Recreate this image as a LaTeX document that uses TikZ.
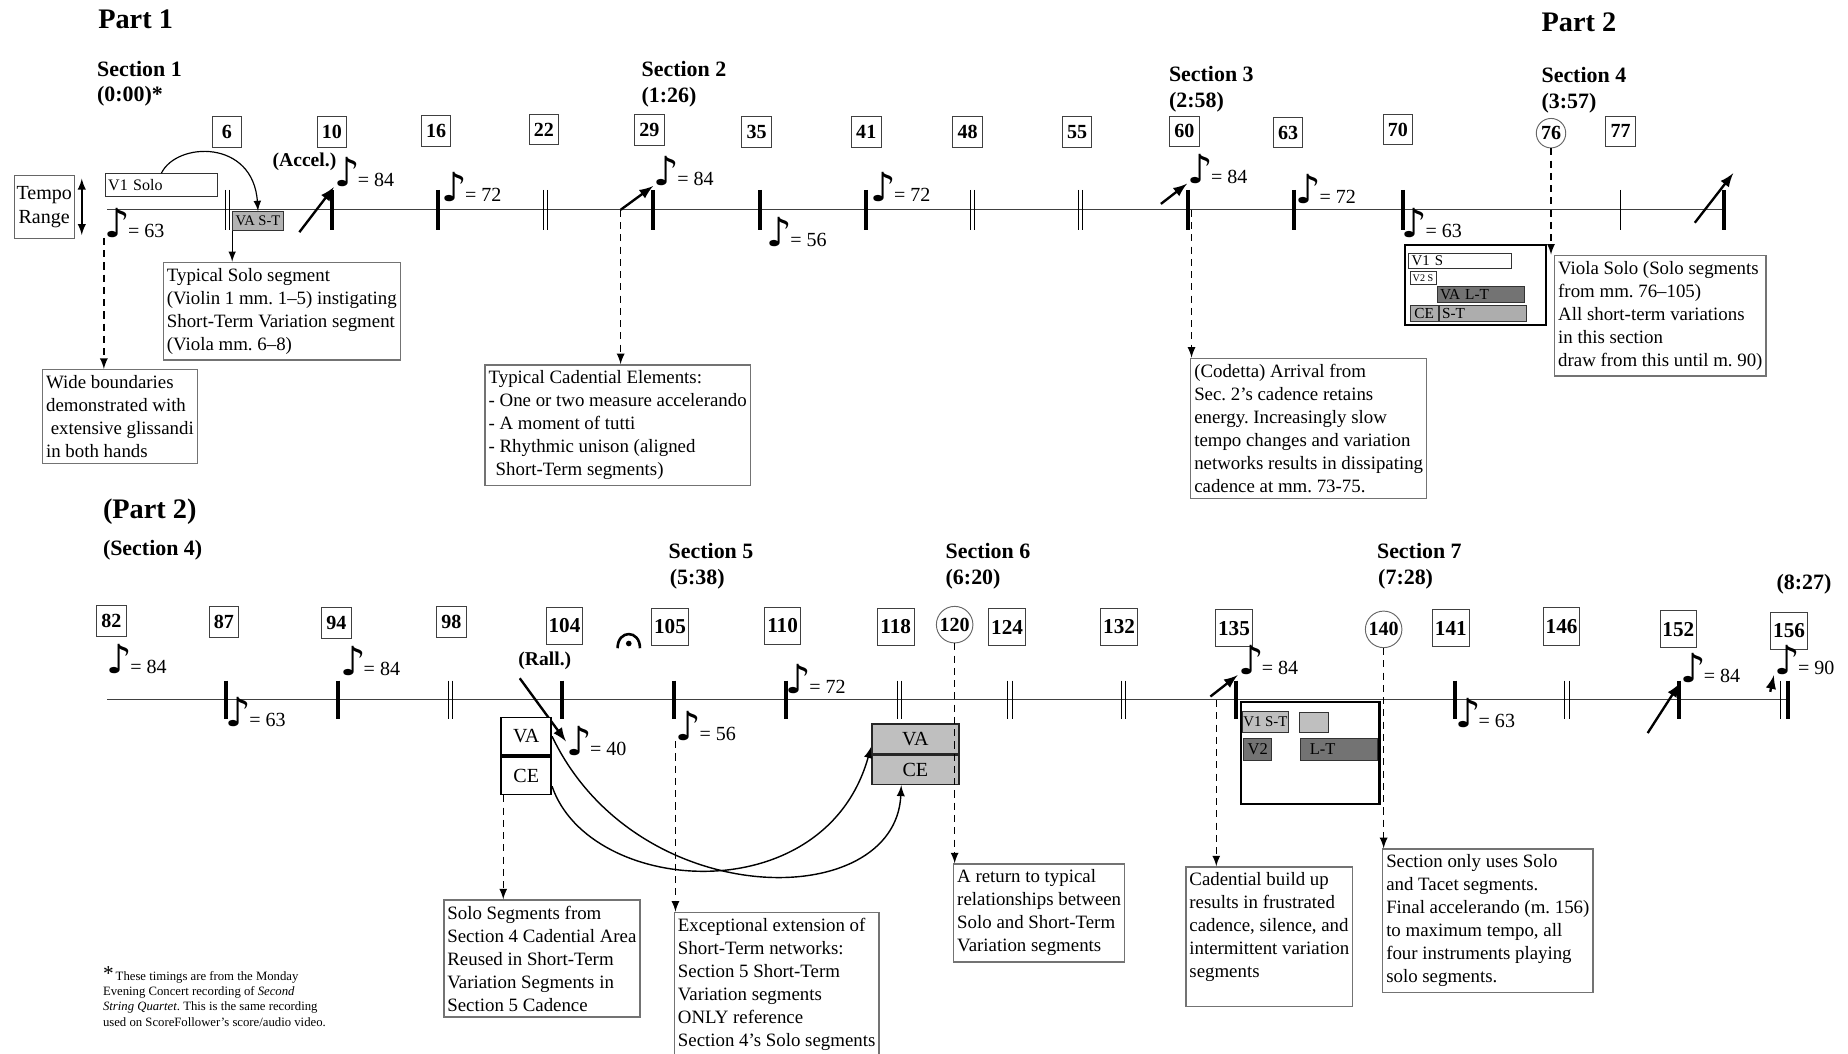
\documentclass[tikz,border=0pt]{standalone}
\usepackage{fontspec}
\setmainfont{Liberation Serif}
\newfontfamily\notefont{DejaVu Sans}
\newcommand{\tnote}[1]{{\notefont\fontsize{17}{17}\selectfont\char"266A}\kern-0.8pt=\ #1}
\frenchspacing

\begin{document}
\begin{tikzpicture}[x=0.5pt, y=-0.5pt,
    font=\fontsize{8}{9.75}\selectfont,
    tline/.style={line width=0.5pt, black!75},
    tbar/.style={line width=1.7pt},
    dbar/.style={line width=0.45pt},
    acc/.style={-latex, line width=1pt},
    dsh/.style={-latex, dashed, dash pattern=on 3pt off 2.2pt, line width=0.55pt},
    numbox/.style={draw=black!75, font=\bfseries\fontsize{8.5}{8.5}\selectfont, inner sep=0.5pt, minimum width=12.5pt, minimum height=13pt},
    numboxw/.style={numbox, font=\bfseries\fontsize{9}{9}\selectfont, minimum width=15.5pt, minimum height=15.75pt},
    numcirc/.style={circle, draw=black!60, font=\bfseries\fontsize{8.5}{8.5}\selectfont, inner sep=0.3pt, minimum size=12.5pt},
    part/.style={anchor=base west, inner sep=0, font=\bfseries\fontsize{12}{12}\selectfont},
    head/.style={anchor=base west, inner sep=0, font=\bfseries\fontsize{9.3}{9.3}\selectfont},
    tempo/.style={inner sep=0, font=\fontsize{8.5}{8.5}\selectfont},
    notebox/.style={draw=black!55, line width=0.6pt, anchor=north west, align=left, inner xsep=1.5pt, inner ysep=2.5pt},
    seg/.style={draw=black!80, anchor=north west, inner sep=0pt, font=\fontsize{6.5}{6.5}\selectfont},
    segl/.style={seg, align=left, inner xsep=1.2pt}
]
    \useasboundingbox (0,0) rectangle (1568,894);

    % Headings
    \node[part] (p1) at (83,24) {Part 1};
    \node[part] (p2) at (1307.6,27) {Part 2};
    \node[head] (s1) at (82,64.5) {Section 1};
    \node[head] (s1t) at (82,86.3) {(0:00)*};
    \node[head] (s2) at (544,65) {Section 2};
    \node[head] (s2t) at (544,87) {(1:26)};
    \node[head] (s3) at (991.5,69) {Section 3};
    \node[head] (s3t) at (991.5,91) {(2:58)};
    \node[head] (s4) at (1307.6,70) {Section 4};
    \node[head] (s4t) at (1307.6,92) {(3:57)};
    \node[part] (p2b) at (87,440) {(Part 2)};
    \node[head] (s4b) at (87,471) {(Section 4)};
    \node[head] (s5) at (567,474) {Section 5};
    \node[head] (s5t) at (568,496) {(5:38)};
    \node[head] (s6) at (802,474) {Section 6};
    \node[head] (s6t) at (802,496) {(6:20)};
    \node[head] (s7) at (1168,474) {Section 7};
    \node[head] (s7t) at (1169,496) {(7:28)};
    \node[head] (s8t) at (1507,500) {(8:27)};

    % Measure numbers
    \foreach \n/\x/\y in {6/192.5/112, 10/281.5/112, 16/370/111, 22/461.5/110, 29/551/110.5, 35/642/112, 41/735/112, 48/821/112, 55/914/112, 60/1005/111.5, 63/1093/112.5, 70/1186/110, 77/1375/111.5, 82/94.5/527, 87/190/527.5, 94/285.5/528.5, 98/383/527.5}
        \node[numbox] (m\n) at (\x,\y) {\n};
    \foreach \n/\x/\y in {104/479/531, 105/568.5/532, 110/664/531, 118/760/532, 124/854.5/532, 132/949.5/532, 135/1047/533, 141/1231/533, 146/1325/531.5, 152/1424/534, 156/1518/535}
        \node[numboxw] (m\n) at (\x,\y) {\n};
    \node[numcirc] (m76) at (1316,113) {76};
    \node[numcirc, minimum size=15.5pt] (m120) at (810,530) {120};
    \node[numcirc, minimum size=15.5pt] (m140) at (1174,534) {140};

    % Timelines
    \coordinate (tl1s) at (91,178);
    \coordinate (tl1e) at (1463,178);
    \coordinate (tl2s) at (91,593.5);
    \coordinate (tl2e) at (1517,593.5);
    \draw[tline] (tl1s) -- (tl1e);
    \draw[tline] (tl2s) -- (tl2e);

    % Bar lines
    \foreach \x in {282,372,554,645,735,1008,1098,1190,1463}
        \draw[tbar] (\x,161) -- (\x,195);
    \foreach \x in {193,463,825,917} {
        \draw[dbar] (\x-1.8,161) -- (\x-1.8,195);
        \draw[dbar] (\x+1.8,161) -- (\x+1.8,195);
    }
    \draw[dbar] (1375,161) -- (1375,195);
    \foreach \x in {192,287,477,572,667,1049,1234.5,1424.6,1517}
        \draw[tbar] (\x,577.5) -- (\x,610);
    \foreach \x in {382.5,763,857,953,1329.6} {
        \draw[dbar] (\x-1.8,577.5) -- (\x-1.8,610);
        \draw[dbar] (\x+1.8,577.5) -- (\x+1.8,610);
    }
    \draw[dbar] (1510.5,577.5) -- (1510.5,610);

    % Tempo marks
    \node[tempo] (t63a) at (114,189) {\tnote{63}};
    \node[tempo] (t84a) at (309,146) {\tnote{84}};
    \node[tempo] (t72a) at (400,159) {\tnote{72}};
    \node[tempo] (t84b) at (580,145) {\tnote{84}};
    \node[tempo] (t56a) at (676,197) {\tnote{56}};
    \node[tempo] (t72b) at (764,159) {\tnote{72}};
    \node[tempo] (t84c) at (1033,143) {\tnote{84}};
    \node[tempo] (t72c) at (1125,160) {\tnote{72}};
    \node[tempo] (t63b) at (1215,189) {\tnote{63}};
    \node[tempo] (t84d) at (116,559) {\tnote{84}};
    \node[tempo] (t63c) at (217,604) {\tnote{63}};
    \node[tempo] (t84e) at (314,561) {\tnote{84}};
    \node[tempo] (t40) at (506,629) {\tnote{40}};
    \node[tempo] (t56b) at (599,616) {\tnote{56}};
    \node[tempo] (t72d) at (692,576) {\tnote{72}};
    \node[tempo] (t84f) at (1076,560) {\tnote{84}};
    \node[tempo] (t63d) at (1260,605) {\tnote{63}};
    \node[tempo] (t84g) at (1451,567) {\tnote{84}};
    \node[tempo] (t90) at (1531,560) {\tnote{90}};

    % Accel. and Rall.
    \node[head, font=\bfseries\fontsize{8.3}{8.3}\selectfont] (accel) at (231,141) {(Accel.)};
    \node[head, font=\bfseries\fontsize{8.3}{8.3}\selectfont] (rall) at (439.5,565) {(Rall.)};
    \coordinate (a1) at (254,197);
    \coordinate (a2) at (526.6,178);
    \coordinate (a3) at (985,173);
    \coordinate (a4) at (1438,189);
    \coordinate (a4e) at (1470.6,147);
    \coordinate (a5) at (1027,591);
    \coordinate (a6) at (1398,622);
    \coordinate (a7) at (1502,587);
    \coordinate (r1) at (441,575.5);
    \draw[acc] (a1) -- (t84a.south west);
    \draw[acc] (a2) -- (t84b.south west);
    \draw[acc] (a3) -- (t84c.south west);
    \draw[acc] (a4) -- (a4e);
    \draw[acc] (a5) -- (t84f.south west);
    \draw[acc] (a6) -- (t84g.south west);
    \draw[acc] (a7) -- (t90.south west);
    \draw[acc] (r1) -- (t40.west);

    % Fermata
    \draw[line width=1.1pt] (524,550) .. controls (524,534) and (543,534) .. (543,550);
    \fill (533.5,546) circle[radius=1.2pt];

    % Tempo range
    \node[draw=black!60, minimum width=25.5pt, minimum height=26.5pt, inner sep=0.5pt, align=center, font=\fontsize{8.5}{10}\selectfont] (trange) at (37.5,175.5) {Tempo\\Range};
    \draw[latex-latex, line width=0.6pt] ([xshift=3pt,yshift=-1.5pt]trange.north east) -- ([xshift=3pt,yshift=1.5pt]trange.south east);

    % Segments, part 1
    \node[segl, fill=white, text width=45.1pt, minimum height=9.5pt, font=\fontsize{6.8}{6.8}\selectfont] (v1solo) at (89,147) {V1 Solo};
    \node[seg, fill=black!30, minimum width=21.5pt, minimum height=8pt, font=\fontsize{6.2}{6.2}\selectfont] (vast) at (197,179) {VA S-T};
    \draw[-latex, line width=0.5pt] (v1solo.north) .. controls (150,120) and (215,118) .. (vast.north);

    \node[draw, line width=0.9pt, anchor=north west, minimum width=60pt, minimum height=34pt, inner sep=0] (grp1) at (1191,207) {};
    \node[segl, fill=white, text width=41.1pt, minimum height=6pt, font=\fontsize{6.3}{6.3}\selectfont] (v1s) at (1195,215) {V1 S};
    \node[seg, fill=white, minimum width=11pt, minimum height=5.5pt, font=\fontsize{4.3}{4.3}\selectfont] (v2s) at (1196,230) {V2 S};
    \node[segl, fill=black!55, text width=34.6pt, minimum height=6.5pt] (valt) at (1219,243) {VA L-T};
    \node[seg, fill=black!32, minimum width=12pt, minimum height=6.5pt] (ce1) at (1196,259) {CE};
    \node[segl, fill=black!32, text width=34.6pt, minimum height=6.5pt] (st1) at (ce1.north east) {S-T};

    % Segments, part 2
    \node[seg, draw=black, line width=0.7pt, fill=white, minimum width=21.2pt, minimum height=16pt, font=\fontsize{8.5}{8.5}\selectfont] (vaA) at (424.6,608) {VA};
    \node[seg, draw=black, line width=0.7pt, fill=white, minimum width=21.2pt, minimum height=16pt, font=\fontsize{8.5}{8.5}\selectfont] (ceA) at (vaA.south west) {CE};
    \node[seg, draw=black!85, line width=0.7pt, fill=black!25, minimum width=37pt, minimum height=12.75pt, font=\fontsize{8.5}{8.5}\selectfont] (vaB) at (739,613.5) {VA};
    \node[seg, draw=black!85, line width=0.7pt, fill=black!25, minimum width=37pt, minimum height=12.25pt, font=\fontsize{8.5}{8.5}\selectfont] (ceB) at (vaB.south west) {CE};
    \draw[-latex, line width=0.6pt] (vaA.east) .. controls (540,775) and (760,775) .. ([xshift=-6pt]ceB.south);
    \draw[-latex, line width=0.6pt] ([yshift=-4.5pt]ceA.east) .. controls (500,760) and (700,775) .. ([yshift=-3.5pt]vaB.west);

    \node[draw, line width=0.9pt, anchor=north west, minimum width=58.8pt, minimum height=43.25pt, inner sep=0] (grp2) at (1052,594.5) {};
    \node[seg, fill=black!25, minimum width=19.25pt, minimum height=9pt, font=\fontsize{6.3}{6.3}\selectfont] (v1st) at (1054,603) {V1 S-T};
    \node[seg, fill=black!25, minimum width=12.5pt, minimum height=8.5pt] (sq) at (1102,604) {};
    \node[seg, fill=black!55, minimum width=12.1pt, minimum height=9.5pt, font=\fontsize{7}{7}\selectfont] (v2) at (1054.6,626) {V2};
    \node[segl, fill=black!55, inner xsep=4pt, text width=24.5pt, minimum height=9.5pt, font=\fontsize{7}{7}\selectfont] (lt) at (1103,626) {L-T};

    % Comment boxes
    \node[notebox] (wide) at (35.5,313) {Wide boundaries\\demonstrated with\\\hspace{2pt}extensive glissandi\\in both hands};
    \node[notebox] (typsolo) at (138,222) {Typical Solo segment\\(Violin 1 mm. 1–5) instigating\\Short-Term Variation segment\\(Viola mm. 6–8)};
    \node[notebox] (cadel) at (411,309) {Typical Cadential Elements:\\- One or two measure accelerando\\- A moment of tutti\\- Rhythmic unison (aligned\\\hspace{3pt}Short-Term segments)};
    \node[notebox] (codetta) at (1009.7,303.5) {(Codetta) Arrival from\\Sec. 2's cadence retains\\energy. Increasingly slow\\tempo changes and variation\\networks results in dissipating\\cadence at mm. 73-75.};
    \node[notebox] (viola) at (1318.5,216) {Viola Solo (Solo segments\\from mm. 76–105)\\All short-term variations\\in this section\\draw from this until m. 90)};
    \node[notebox] (solseg) at (376,763) {Solo Segments from\\Section 4 Cadential Area\\Reused in Short-Term\\Variation Segments in\\Section 5 Cadence};
    \node[notebox] (except) at (571.6,773.5) {Exceptional extension of\\Short-Term networks:\\Section 5 Short-Term\\Variation segments\\ONLY reference\\Section 4's Solo segments};
    \node[notebox] (aret) at (808.6,732.5) {A return to typical\\relationships between\\Solo and Short-Term\\Variation segments};
    \node[notebox] (cbu) at (1005.6,735) {Cadential build up\\results in frustrated\\cadence, silence, and\\intermittent variation\\segments\\\mbox{}};
    \node[notebox] (sonly) at (1172.6,719.7) {Section only uses Solo\\and Tacet segments.\\Final accelerando (m. 156)\\to maximum tempo, all\\four instruments playing\\solo segments.};

    % Pointers
    \draw[-latex, line width=0.5pt] (vast.south west) -- (vast.south west |- typsolo.north);
    \coordinate (d3) at (1011,178);
    \coordinate (d5) at (1032,594);
    \draw[dsh] (t63a.south west) -- (t63a.south west |- wide.north);
    \draw[dsh] (a2) -- (a2 |- cadel.north);
    \draw[dsh] (d3) -- (d3 |- codetta.north);
    \draw[dsh] (m76.south) -- (m76.south |- viola.north);
    \draw[dsh] ([xshift=1.2pt]ceA.south west) -- ([xshift=1.2pt]ceA.south west |- solseg.north);
    \draw[dsh] (t56b.south west) -- (t56b.south west |- except.north);
    \draw[dsh] (m120.south) -- (m120.south |- aret.north);
    \draw[dsh] (d5) -- (d5 |- cbu.north);
    \draw[dsh] (m140.south) -- (m140.south |- sonly.north);

    % Footnote
    \node[anchor=north west, align=left, inner sep=0, font=\fontsize{5.4}{6.4}\selectfont] (fnote) at (87,820) {{\fontsize{9}{9}\selectfont *}\,These timings are from the Monday\\Evening Concert recording of \textit{Second}\\\textit{String Quartet}. This is the same recording\\used on ScoreFollower's score/audio video.};
\end{tikzpicture}
\end{document}
